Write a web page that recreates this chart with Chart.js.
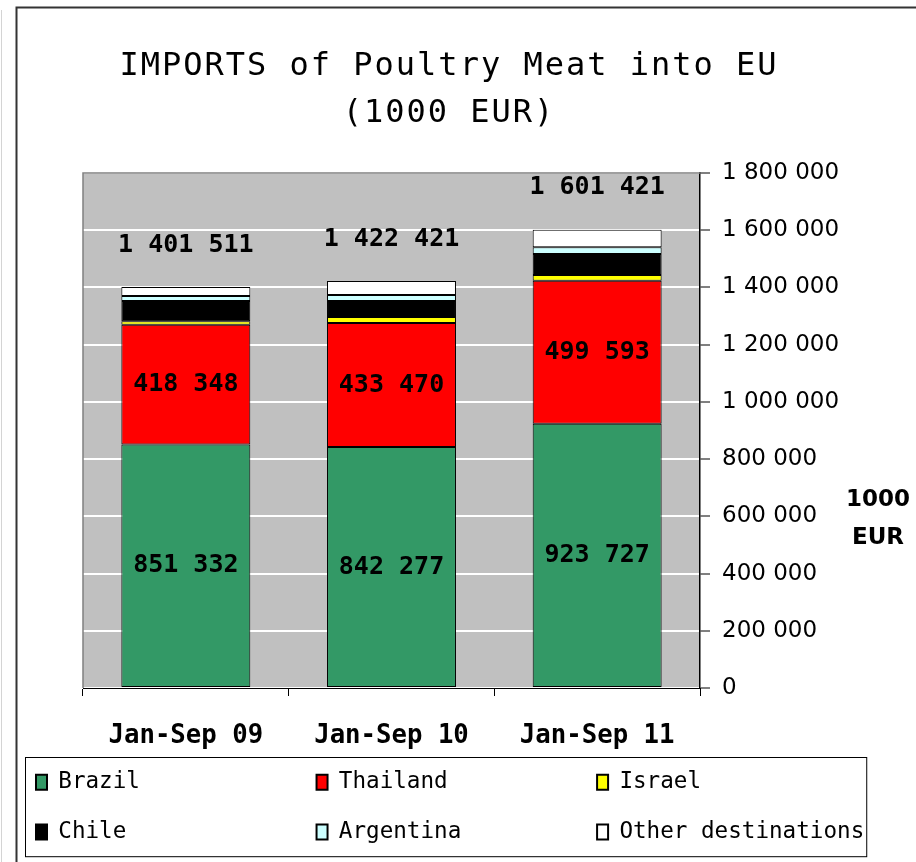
<!DOCTYPE html>
<html>
<head>
<meta charset="utf-8">
<script src="https://cdn.jsdelivr.net/npm/chart.js@4.4.1/dist/chart.umd.min.js"></script>
<style>
html,body{margin:0;padding:0;background:#fff;}
canvas{display:block;}
</style>
</head>
<body>
<canvas id="c" width="916" height="862"></canvas>
<script>
// ---- data ----
const categories = ['Jan-Sep 09', 'Jan-Sep 10', 'Jan-Sep 11'];
const brazil    = [851332, 842277, 923727];
const thailand  = [418348, 433470, 499593];
const israel    = [12000, 21000, 20000];
const chile     = [71000, 56000, 73500];
const argentina = [17500, 21000, 23500];
const otherDest = [31331, 48674, 61101];
const totals    = [1401511, 1422421, 1601421];
const yMin = 0, yMax = 1800000, yStep = 200000;
const titleLines = ['IMPORTS of Poultry Meat into EU', '(1000 EUR)'];
const unitLines = ['1000', 'EUR'];
const seriesNames = ['Brazil', 'Thailand', 'Israel', 'Chile', 'Argentina', 'Other destinations'];
const seriesColors = ['#339966', '#FF0000', '#FFFF00', '#000000', '#CCFFFF', '#FFFFFF'];
const seriesValues = [brazil, thailand, israel, chile, argentina, otherDest];
const labelledSeries = [0, 1];

const fmt = v => String(v).replace(/\B(?=(\d{3})+(?!\d))/g, ' ');
const MONO = '"DejaVu Sans Mono", "Liberation Mono", monospace';
const SANS = '"DejaVu Sans", Verdana, sans-serif';

Chart.defaults.color = '#000';

const decor = {
  id: 'decor',
  beforeDraw(chart) {
    const {ctx, chartArea: a} = chart;
    const t = chart.titleBlock;
    if (t && !t._patched) {
      const orig = t.draw.bind(t);
      t.draw = function () {
        const c = chart.ctx;
        c.save();
        c.letterSpacing = '2px';
        c.translate(-13.5, 0);
        orig();
        c.restore();
      };
      t._patched = true;
    }
    ctx.save();
    ctx.fillStyle = '#fff';
    ctx.fillRect(0, 0, chart.width, chart.height);
    ctx.strokeStyle = '#d4d4d4';
    ctx.lineWidth = 1;
    ctx.beginPath(); ctx.moveTo(1.5, 10); ctx.lineTo(1.5, chart.height); ctx.stroke();
    ctx.strokeStyle = '#333';
    ctx.lineWidth = 2;
    ctx.strokeRect(16.5, 7.5, 1000, 1000);
    ctx.fillStyle = '#C0C0C0';
    ctx.fillRect(a.left, a.top, a.right - a.left, a.bottom - a.top);
    ctx.restore();
  },
  beforeDatasetsDraw(chart) {
    const {ctx, chartArea: a} = chart;
    ctx.save();
    ctx.strokeStyle = '#808080';
    ctx.lineWidth = 1.5;
    ctx.beginPath();
    ctx.moveTo(a.left, a.bottom); ctx.lineTo(a.left, a.top); ctx.lineTo(a.right, a.top);
    ctx.stroke();
    ctx.restore();
  },
  afterDatasetsDraw(chart) {
    const {ctx} = chart;
    ctx.save();
    ctx.font = 'bold 25px ' + MONO;
    ctx.fillStyle = '#000';
    ctx.textAlign = 'center';
    ctx.textBaseline = 'middle';
    labelledSeries.forEach(di => {
      const meta = chart.getDatasetMeta(di);
      meta.data.forEach((el, i) => {
        const v = chart.data.datasets[di].data[i];
        ctx.fillText(fmt(v), el.x, (el.y + el.base) / 2);
      });
    });
    const last = chart.getDatasetMeta(chart.data.datasets.length - 1);
    last.data.forEach((el, i) => {
      ctx.fillText(fmt(totals[i]), el.x, el.y - 42);
    });
    ctx.restore();
  },
  afterDraw(chart) {
    const {ctx, chartArea: a} = chart;
    const lg = chart.legend;
    ctx.save();
    if (lg && lg.legendHitBoxes && lg.legendHitBoxes.length) {
      let r = 0;
      lg.legendHitBoxes.forEach(h => { r = Math.max(r, h.left + h.width); });
      const L = lg.left + 16.5, T = lg.top + 13.5, R = r + 2.5, B = lg.bottom + 3.5;
      ctx.strokeStyle = '#000';
      ctx.lineWidth = 1;
      ctx.strokeRect(L, T, R - L, B - T);
    }
    ctx.font = 'bold 23px ' + SANS;
    ctx.fillStyle = '#000';
    ctx.textAlign = 'center';
    ctx.textBaseline = 'middle';
    const ux = chart.scales.y.right - 38;
    ctx.fillText(unitLines[0], ux, a.bottom - 188);
    ctx.fillText(unitLines[1], ux, a.bottom - 150);
    ctx.restore();
  }
};

const datasets = seriesNames.map((name, i) => ({
  label: name,
  data: seriesValues[i],
  backgroundColor: seriesColors[i],
  borderColor: '#000',
  borderWidth: 1,
  borderSkipped: false,
  barPercentage: 0.627,
  categoryPercentage: 1.0
}));

new Chart(document.getElementById('c'), {
  type: 'bar',
  data: { labels: categories, datasets },
  plugins: [decor],
  options: {
    responsive: false,
    animation: false,
    devicePixelRatio: 1,
    layout: { padding: { left: 9, right: 0, top: 0, bottom: 8.8 } },
    plugins: {
      tooltip: { enabled: false },
      title: {
        display: true,
        text: titleLines,
        color: '#000',
        font: { family: MONO, size: 32, weight: 'normal', lineHeight: 47 / 32 },
        padding: { top: 43, bottom: 36 }
      },
      legend: {
        display: true,
        position: 'bottom',
        align: 'start',
        labels: {
          boxWidth: 11,
          boxHeight: 15,
          padding: 27,
          color: '#000',
          font: { family: MONO, size: 22.6 },
          generateLabels(chart) {
            const items = Chart.defaults.plugins.legend.labels.generateLabels(chart);
            items.forEach((it, i) => {
              if (i % 3 !== 2) it.text = it.text.padEnd(17, ' ');
              it.lineWidth = 2;
            });
            return items;
          }
        }
      }
    },
    scales: {
      x: {
        stacked: true,
        grid: { display: true, drawOnChartArea: false, drawTicks: true, tickLength: 8, color: '#000', offset: true },
        border: { display: true, color: '#000', width: 1 },
        ticks: { font: { family: MONO, size: 25.7, weight: 'bold' }, color: '#000', padding: 24.6 },
        afterFit(s) {
          s.height = 56;
          s._computeLabelArea = () => undefined;
        }
      },
      y: {
        stacked: true,
        position: 'right',
        min: yMin,
        max: yMax,
        grid: { color: '#FFFFFF', lineWidth: 2, drawTicks: true, tickLength: 10, tickColor: '#000', tickWidth: 1 },
        border: { display: true, color: '#000', width: 1.5 },
        ticks: {
          stepSize: yStep,
          padding: 12,
          color: '#000',
          font: { family: SANS, size: 23 },
          callback: v => fmt(v)
        },
        afterFit(s) { s.width = 216; }
      },
      spacer: {
        type: 'linear',
        position: 'left',
        display: true,
        grid: { display: false, drawTicks: false },
        border: { display: false },
        ticks: { display: false },
        afterFit(s) { s.width = 74; }
      }
    }
  }
});
</script>
</body>
</html>
